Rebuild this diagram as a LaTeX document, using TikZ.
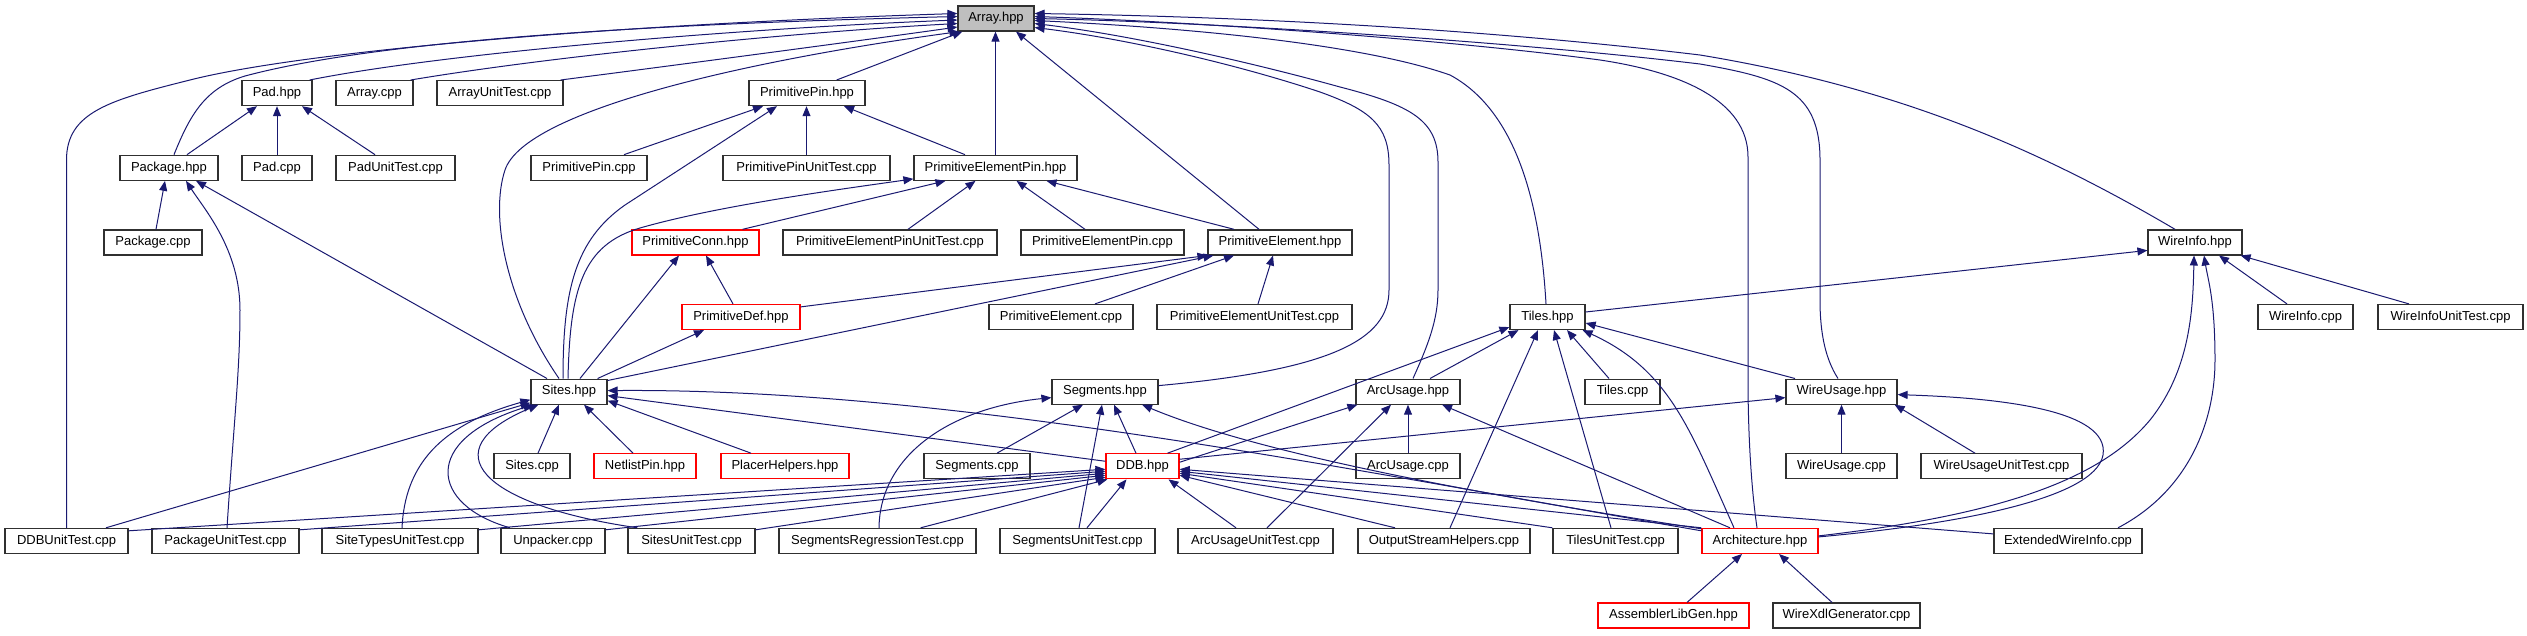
\documentclass[tikz,border=0pt]{standalone}
\usepackage{fontspec}
\setmainfont{Liberation Sans}
\usetikzlibrary{arrows.meta}
\definecolor{mb}{HTML}{191970}
\definecolor{gr}{HTML}{BFBFBF}
\definecolor{rd}{HTML}{FF0000}
\definecolor{bd}{HTML}{303030}
\tikzset{
  nbox/.style={draw=bd, line width=1.2pt, fill=white, minimum height=25pt, inner sep=0pt, font=\fontsize{13}{15}\selectfont},
  redb/.style={draw=rd},
  grayb/.style={fill=gr},
  e/.style={draw=mb, line width=1pt, -{Triangle[length=10pt,width=8pt]}}
}
\newcommand\mkbox[6][]{\node[nbox,#1,minimum width={#4-#3}] (#2) at ({(#3+#4)/2},#5) {#6};}
\def\rA{18.5}\def\rB{93.1}\def\rC{167.75}\def\rD{242.4}\def\rE{317}
\def\rF{391.6}\def\rG{466.25}\def\rH{540.9}\def\rI{615.5}
\begin{document}
\begin{tikzpicture}[x=1pt,y=-1pt]
\useasboundingbox (0,0) rectangle (2527,635);
% nodes
\mkbox[grayb]{arr}{958}{1034}{\rA}{Array.hpp}
\mkbox{padh}{242}{312}{\rB}{Pad.hpp}
\mkbox{arrcpp}{336}{413}{\rB}{Array.cpp}
\mkbox{arrut}{437}{563}{\rB}{ArrayUnitTest.cpp}
\mkbox{ppinh}{749}{865}{\rB}{PrimitivePin.hpp}
\mkbox{pkgh}{120}{218}{\rC}{Package.hpp}
\mkbox{padcpp}{242}{312}{\rC}{Pad.cpp}
\mkbox{padut}{336}{455}{\rC}{PadUnitTest.cpp}
\mkbox{ppincpp}{531}{647}{\rC}{PrimitivePin.cpp}
\mkbox{ppinut}{723}{890}{\rC}{PrimitivePinUnitTest.cpp}
\mkbox{pepinh}{914}{1077}{\rC}{PrimitiveElementPin.hpp}
\mkbox{pkgcpp}{104}{202}{\rD}{Package.cpp}
\mkbox[redb]{pconn}{632}{759}{\rD}{PrimitiveConn.hpp}
\mkbox{pepinut}{783}{997}{\rD}{PrimitiveElementPinUnitTest.cpp}
\mkbox{pepincpp}{1021}{1184}{\rD}{PrimitiveElementPin.cpp}
\mkbox{peh}{1208}{1352}{\rD}{PrimitiveElement.hpp}
\mkbox{wih}{2148}{2242}{\rD}{WireInfo.hpp}
\mkbox[redb]{pdef}{682}{800}{\rE}{PrimitiveDef.hpp}
\mkbox{pecpp}{989}{1133}{\rE}{PrimitiveElement.cpp}
\mkbox{peut}{1157}{1352}{\rE}{PrimitiveElementUnitTest.cpp}
\mkbox{tilesh}{1510}{1585}{\rE}{Tiles.hpp}
\mkbox{wicpp}{2258}{2353}{\rE}{WireInfo.cpp}
\mkbox{wiut}{2378}{2523}{\rE}{WireInfoUnitTest.cpp}
\mkbox{sitesh}{531}{607}{\rF}{Sites.hpp}
\mkbox{segh}{1052}{1158}{\rF}{Segments.hpp}
\mkbox{arch}{1356}{1460}{\rF}{ArcUsage.hpp}
\mkbox{tilescpp}{1585}{1660}{\rF}{Tiles.cpp}
\mkbox{wuh}{1786}{1897}{\rF}{WireUsage.hpp}
\mkbox{sitescpp}{494}{570}{\rG}{Sites.cpp}
\mkbox[redb]{npin}{594}{696}{\rG}{NetlistPin.hpp}
\mkbox[redb]{placer}{721}{849}{\rG}{PlacerHelpers.hpp}
\mkbox{segcpp}{924}{1030}{\rG}{Segments.cpp}
\mkbox[redb]{ddb}{1106}{1179}{\rG}{DDB.hpp}
\mkbox{arccpp}{1356}{1460}{\rG}{ArcUsage.cpp}
\mkbox{wucpp}{1786}{1897}{\rG}{WireUsage.cpp}
\mkbox{wuut}{1921}{2082}{\rG}{WireUsageUnitTest.cpp}
\mkbox{ddbut}{5}{128}{\rH}{DDBUnitTest.cpp}
\mkbox{pkgut}{152}{299}{\rH}{PackageUnitTest.cpp}
\mkbox{stut}{322}{478}{\rH}{SiteTypesUnitTest.cpp}
\mkbox{unpk}{501}{605}{\rH}{Unpacker.cpp}
\mkbox{sitesut}{628}{755}{\rH}{SitesUnitTest.cpp}
\mkbox{segrt}{779}{976}{\rH}{SegmentsRegressionTest.cpp}
\mkbox{segut}{1000}{1155}{\rH}{SegmentsUnitTest.cpp}
\mkbox{arcut}{1178}{1333}{\rH}{ArcUsageUnitTest.cpp}
\mkbox{osh}{1358}{1530}{\rH}{OutputStreamHelpers.cpp}
\mkbox{tilesut}{1553}{1678}{\rH}{TilesUnitTest.cpp}
\mkbox[redb]{archh}{1702}{1818}{\rH}{Architecture.hpp}
\mkbox{ewi}{1994}{2142}{\rH}{ExtendedWireInfo.cpp}
\mkbox[redb]{alg}{1598}{1749}{\rI}{AssemblerLibGen.hpp}
\mkbox{wxg}{1773}{1920}{\rI}{WireXdlGenerator.cpp}
% edges to Array.hpp
\draw[e] (ddbut.north) -- (66.5,160) .. controls (66.5,112) and (110,100) .. (190,80) .. controls (300,52) and (600,25) .. ([yshift=5pt]arr.west);
\draw[e] ([xshift=5pt]pkgh.north) .. controls (190,115) and (205,88) .. (245,76) .. controls (380,40) and (650,24) .. ([yshift=2pt]arr.west);
\draw[e] ([xshift=-3pt]padh.north east) .. controls (450,52) and (750,28) .. ([yshift=-1.5pt]arr.west);
\draw[e] ([xshift=-3pt]arrcpp.north east) .. controls (560,55) and (800,32) .. ([yshift=-5pt]arr.west);
\draw[e] ([xshift=-3pt]arrut.north east) .. controls (700,62) and (880,38) .. ([yshift=-8.5pt]arr.west);
\draw[e] ([xshift=-10pt]sitesh.north) .. controls (505,300) and (490,215) .. (505,170) .. controls (525,110) and (750,60) .. ([xshift=2pt]arr.south west);
\draw[e] ([xshift=-29pt]ppinh.north east) -- ([xshift=5pt]arr.south west);
\draw[e] (pepinh.north) -- (pepinh.north |- arr.south);
\draw[e] ([xshift=-21pt]peh.north) -- ([xshift=20pt]arr.south);
\draw[e] ([yshift=6pt]segh.east) .. controls (1330,370) and (1389,340) .. (1389,290) -- (1389,165) .. controls (1389,125) and (1370,110) .. (1320,92) .. controls (1230,62) and (1120,38) .. ([yshift=-9pt]arr.east);
\draw[e] ([xshift=5pt]arch.north) .. controls (1428,345) and (1438,320) .. (1438,290) -- (1438,162) .. controls (1438,120) and (1410,105) .. (1340,87) .. controls (1250,62) and (1130,35) .. ([yshift=-5pt]arr.east);
\draw[e] ([xshift=-1.5pt]tilesh.north) .. controls (1540,200) and (1515,110) .. (1450,75) .. controls (1350,40) and (1150,26) .. ([yshift=-2pt]arr.east);
\draw[e] ([xshift=-3.5pt]wuh.north) .. controls (1826,360) and (1820,335) .. (1820,300) -- (1820,160) .. controls (1820,90) and (1780,78) .. (1700,64) .. controls (1500,40) and (1200,22) .. ([yshift=0pt]arr.east);
\draw[e] ([xshift=-3pt]archh.north) .. controls (1750,480) and (1748,420) .. (1748,380) -- (1748,157) .. controls (1748,100) and (1680,72) .. (1600,60) .. controls (1450,40) and (1200,22) .. ([yshift=2pt]arr.east);
\draw[e] ([xshift=-20pt]wih.north) .. controls (2040,150) and (1900,88) .. (1700,55) .. controls (1450,25) and (1200,16) .. ([yshift=5pt]arr.east);
% Pad.hpp
\draw[e] ([xshift=18pt]pkgh.north) -- ([xshift=-20pt]padh.south);
\draw[e] (padcpp.north) -- (padh.south);
\draw[e] ([xshift=-20.5pt]padut.north) -- ([xshift=25pt]padh.south);
% Package.hpp
\draw[e] ([xshift=3pt]pkgcpp.north) -- ([xshift=-4pt]pkgh.south);
\draw[e] ([xshift=1.5pt]pkgut.north) .. controls (234,420) and (240,370) .. (240,310) .. controls (240,250) and (205,210) .. ([xshift=17pt]pkgh.south);
\draw[e] ([xshift=-22pt]sitesh.north) -- ([xshift=27pt]pkgh.south);
% PrimitivePin.hpp
\draw[e] ([xshift=35pt]ppincpp.north) -- ([xshift=-44pt]ppinh.south);
\draw[e] (ppinut.north) -- (ppinut.north |- ppinh.south);
\draw[e] ([xshift=-30.5pt]pepinh.north) -- ([xshift=37pt]ppinh.south);
\draw[e] ([xshift=-6pt]sitesh.north) .. controls (563,290) and (575,240) .. (625,205) -- ([xshift=-30pt]ppinh.south);
% PrimitiveElementPin.hpp
\draw[e] ([xshift=-1pt]sitesh.north) .. controls (570,290) and (582,245) .. (640,228) .. controls (720,205) and (850,188) .. ([yshift=2pt]pepinh.south west);
\draw[e] ([xshift=-17pt]pconn.north east) -- ([xshift=-50pt]pepinh.south);
\draw[e] ([xshift=18pt]pepinut.north) -- ([xshift=-20pt]pepinh.south);
\draw[e] ([xshift=-17.5pt]pepincpp.north) -- ([xshift=21pt]pepinh.south);
\draw[e] ([xshift=-46pt]peh.north) -- ([xshift=51pt]pepinh.south);
% PrimitiveConn.hpp
\draw[e] ([xshift=11pt]sitesh.north) -- ([xshift=-16.5pt]pconn.south);
\draw[e] ([xshift=-8pt]pdef.north) -- ([xshift=10.5pt]pconn.south);
% PrimitiveDef.hpp
\draw[e] ([xshift=-10pt]sitesh.north east) -- ([xshift=-37pt]pdef.south);
% PrimitiveElement.hpp
\draw[e] ([yshift=-3pt]pdef.north east) -- (peh.south west);
\draw[e] ([yshift=-2pt]sitesh.north east) -- ([xshift=6pt]peh.south west);
\draw[e] ([xshift=34pt]pecpp.north) -- ([xshift=-46pt]peh.south);
\draw[e] ([xshift=3.5pt]peut.north) -- ([xshift=-7pt]peh.south);
% Sites.hpp
\draw[e] ([xshift=6pt]sitescpp.north) -- ([xshift=-10pt]sitesh.south);
\draw[e] ([xshift=-12pt]npin.north) -- ([xshift=15pt]sitesh.south);
\draw[e] ([xshift=-34pt]placer.north) -- ([yshift=-9pt]sitesh.east);
\draw[e] ([yshift=5pt]ddb.west) -- ([yshift=-4pt]sitesh.east);
\draw[e] ([yshift=-3pt]archh.north west) .. controls (1350,470) and (950,388) .. ([yshift=1pt]sitesh.east);
\draw[e] ([xshift=39.5pt]ddbut.north) -- ([yshift=2pt]sitesh.south west);
\draw[e] ([xshift=2pt]stut.north) .. controls (405,465) and (440,425) .. ([yshift=5pt]sitesh.south west);
\draw[e] ([xshift=-43pt]unpk.north) .. controls (430,505) and (420,440) .. ([xshift=3pt]sitesh.south west);
\draw[e] ([xshift=10pt]sitesut.north west) .. controls (480,505) and (430,450) .. ([xshift=8pt]sitesh.south west);
% Segments.hpp
\draw[e] ([xshift=1.5pt]segrt.north) .. controls (880,455) and (950,408) .. ([yshift=-6pt]segh.west);
\draw[e] ([xshift=20pt]segcpp.north) -- ([xshift=-22pt]segh.south);
\draw[e] ([xshift=-6.5pt]ddb.north) -- ([xshift=9pt]segh.south);
\draw[e] ([xshift=1.5pt]segut.north) -- ([xshift=-3pt]segh.south);
\draw[e] ([yshift=-1pt]archh.north west) .. controls (1450,490) and (1250,450) .. ([xshift=37pt]segh.south);
% Tiles.hpp
\draw[e] ([xshift=-12pt]ddb.north east) -- ([yshift=3pt]tilesh.south west);
\draw[e] ([xshift=22pt]arch.north) -- ([xshift=-29pt]tilesh.south);
\draw[e] ([xshift=6pt]osh.north) -- ([xshift=-9.5pt]tilesh.south);
\draw[e] ([xshift=-4.5pt]tilesut.north) -- ([xshift=6.5pt]tilesh.south);
\draw[e] ([xshift=-13.5pt]tilescpp.north) -- ([xshift=19.5pt]tilesh.south);
\draw[e] ([xshift=-26pt]archh.north) .. controls (1690,430) and (1670,370) .. ([xshift=-3pt]tilesh.south east);
\draw[e] ([xshift=-46.5pt]wuh.north) -- ([yshift=-6pt]tilesh.east);
% ArcUsage.hpp
\draw[e] ([yshift=4pt]ddb.east) -- ([xshift=2pt]arch.south west);
\draw[e] ([xshift=11.5pt]arcut.north) -- ([xshift=-17pt]arch.south);
\draw[e] (arccpp.north) -- (arch.south);
\draw[e] ([xshift=-30pt]archh.north) -- ([xshift=34pt]arch.south);
% WireUsage.hpp
\draw[e] ([yshift=7pt]ddb.east) -- ([yshift=-6pt]wuh.west);
\draw[e] (wucpp.north) -- (wuh.south);
\draw[e] ([xshift=-26.5pt]wuut.north) -- ([xshift=-3pt]wuh.south east);
\draw[e] ([yshift=4pt]archh.east) .. controls (1950,525) and (2095,500) .. (2103,455) .. controls (2110,410) and (2000,398) .. ([yshift=-3pt]wuh.east);
% WireInfo.hpp
\draw[e] ([yshift=5pt]tilesh.east) -- ([yshift=-8pt]wih.west);
\draw[e] ([xshift=-18.5pt]wicpp.north) -- ([xshift=24pt]wih.south);
\draw[e] ([xshift=-41.5pt]wiut.north) -- ([xshift=-2pt]wih.south east);
\draw[e] ([yshift=5pt]archh.east) .. controls (2000,515) and (2100,480) .. (2150,420) .. controls (2190,370) and (2193,310) .. ([xshift=-1pt]wih.south);
\draw[e] ([xshift=50pt]ewi.north) .. controls (2190,490) and (2215,420) .. (2215,360) .. controls (2215,300) and (2208,280) .. ([xshift=9pt]wih.south);
% DDB.hpp
\draw[e] ([yshift=-3pt]ddbut.north east) -- ([yshift=-3pt]ddb.west);
\draw[e] ([yshift=-2pt]pkgut.north east) -- ([yshift=-5pt]ddb.west);
\draw[e] ([yshift=-2pt]stut.north east) -- ([yshift=-7pt]ddb.west);
\draw[e] ([yshift=-2pt]unpk.north east) -- ([yshift=-9pt]ddb.west);
\draw[e] ([yshift=-2pt]sitesut.north east) -- ([yshift=-11pt]ddb.west);
\draw[e] ([xshift=-56pt]segrt.north east) -- ([xshift=2pt]ddb.south west);
\draw[e] ([xshift=9.5pt]segut.north) -- ([xshift=-16pt]ddb.south);
\draw[e] ([xshift=-19.5pt]arcut.north) -- ([xshift=26pt]ddb.south);
\draw[e] ([xshift=-49pt]osh.north) -- ([yshift=-9pt]ddb.east);
\draw[e] (tilesut.north west) -- ([yshift=-7pt]ddb.east);
\draw[e] (archh.north west) -- ([yshift=-5pt]ddb.east);
\draw[e] ([yshift=7pt]ewi.west) -- ([yshift=-3pt]ddb.east);
% Architecture.hpp
\draw[e] ([xshift=13.5pt]alg.north) -- ([xshift=-18pt]archh.south);
\draw[e] ([xshift=-14.5pt]wxg.north) -- ([xshift=19pt]archh.south);
\end{tikzpicture}
\end{document}
